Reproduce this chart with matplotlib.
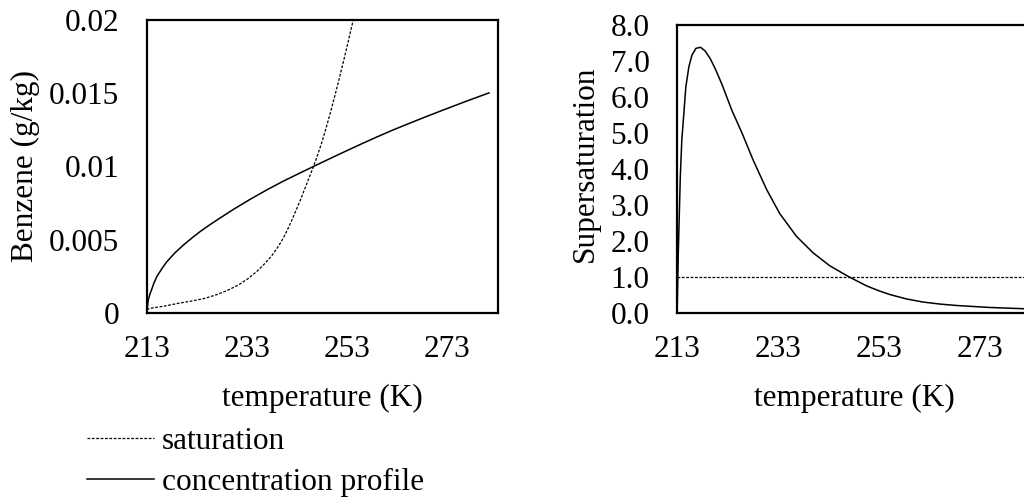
import matplotlib
matplotlib.use('Agg')
import matplotlib.pyplot as plt

plt.rcParams['font.family'] = ['Liberation Serif', 'DejaVu Serif']
plt.rcParams['font.size'] = 22.5

# left panel: benzene (g/kg) vs temperature (K)
sat_T = [213.0, 213.7, 216.5, 219.3, 222.0, 224.6, 227.0, 229.3, 231.4, 233.3,
         235.0, 236.6, 238.0, 239.2, 240.3, 241.2, 242.2, 243.6, 244.8, 246.0,
         246.9, 247.9, 248.9, 249.9, 250.9, 251.7, 252.5, 253.3, 254.2]
sat_c = [0.00022, 0.0003, 0.00045, 0.00064, 0.0008, 0.00098, 0.00124, 0.00155, 0.00192, 0.00235,
         0.00283, 0.00337, 0.00392, 0.0045, 0.00513, 0.00576, 0.00652, 0.00765, 0.0087, 0.00975,
         0.01058, 0.0116, 0.01275, 0.0140, 0.0153, 0.0164, 0.01752, 0.01868, 0.0200]

conc_T = [213.0, 213.1, 213.3, 213.66, 214.0, 214.4, 215.0, 216.0, 217.0, 218.6,
          220.3, 222.0, 223.6, 225.3, 227.0, 230.3, 233.6, 236.9, 240.2, 243.6,
          246.5, 249.5, 252.1, 255.5, 258.8, 262.1, 265.4, 268.7, 272.0, 276.6, 281.3]
conc_c = [0.0, 0.0003, 0.00087, 0.0013, 0.0016, 0.0020, 0.00246, 0.0030, 0.00348, 0.00408,
          0.00462, 0.0051, 0.00553, 0.00594, 0.00633, 0.00706, 0.00774, 0.00838, 0.00898, 0.00955,
          0.01003, 0.01052, 0.01094, 0.01148, 0.01199, 0.01248, 0.01294, 0.01339, 0.01383, 0.01443, 0.01502]

# right panel: supersaturation vs temperature (K)
ss_T = [213.0, 213.2, 213.6, 213.9, 214.3, 214.7, 215.3, 215.9, 216.7, 217.6,
        218.5, 219.5, 220.5, 221.9, 223.8, 225.8, 228.0, 230.7, 233.3, 236.6,
        239.9, 243.2, 246.9, 250.5, 253.0, 255.1, 258.3, 261.7, 265.0, 268.3, 274.9, 281.6]
ss = [0.2, 1.65, 3.78, 4.80, 5.54, 6.28, 6.84, 7.16, 7.35, 7.38,
      7.28, 7.07, 6.79, 6.33, 5.63, 5.0, 4.25, 3.42, 2.75, 2.12,
      1.66, 1.30, 1.0, 0.74, 0.60, 0.50, 0.38, 0.29, 0.235, 0.195, 0.14, 0.105]
ss_limit_T = [213, 283]
ss_limit = [1.0, 1.0]

x_ticks = [213, 233, 253, 273]

fig = plt.figure(figsize=(10.24, 5.0), dpi=100)
ax1 = fig.add_axes([0.1433, 0.3746, 0.3426, 0.5854])
ax2 = fig.add_axes([0.6614, 0.375, 0.3452, 0.575])

dash = (0, (2.2, 1.3))

ax1.plot(sat_T, sat_c, color='black', lw=0.9, linestyle=dash, label='saturation')
ax1.plot(conc_T, conc_c, color='black', lw=1.1, label='concentration profile')
ax1.set_xlim(213, 283)
ax1.set_ylim(0, 0.02)
ax1.set_xticks(x_ticks)
ax1.set_yticks([0, 0.005, 0.01, 0.015, 0.02])
ax1.set_yticklabels(['0', '0.005', '0.01', '0.015', '0.02'])
ax1.set_xlabel('temperature (K)')
ax1.set_ylabel('Benzene (g/kg)')

ax2.plot(ss_limit_T, ss_limit, color='black', lw=0.9, linestyle=dash)
ax2.plot(ss_T, ss, color='black', lw=1.1)
ax2.set_xlim(213, 283)
ax2.set_ylim(0, 8)
ax2.set_xticks(x_ticks)
ax2.set_yticks(range(9))
ax2.set_yticklabels(['%.1f' % v for v in range(9)])
ax2.set_xlabel('temperature (K)')
ax2.set_ylabel('Supersaturation')

for ax in (ax1, ax2):
    for s in ax.spines.values():
        s.set_linewidth(1.6)
    ax.tick_params(length=0, labelsize=22.5)
    ax.tick_params(axis='y', pad=20)
    ax.tick_params(axis='x', pad=16)

ax1.yaxis.set_label_coords(-0.304, 0.5)
ax2.yaxis.set_label_coords(-0.218, 0.517)
ax1.xaxis.set_label_coords(0.5, -0.245)
ax2.xaxis.set_label_coords(0.5, -0.247)

fig.legend(loc='upper left', bbox_to_anchor=(0.085, 0.146), frameon=False,
           handlelength=2.15, handletextpad=0.25, labelspacing=0.37,
           borderpad=0, borderaxespad=0, fontsize=22.5)

fig.savefig('out.png', dpi=100)
